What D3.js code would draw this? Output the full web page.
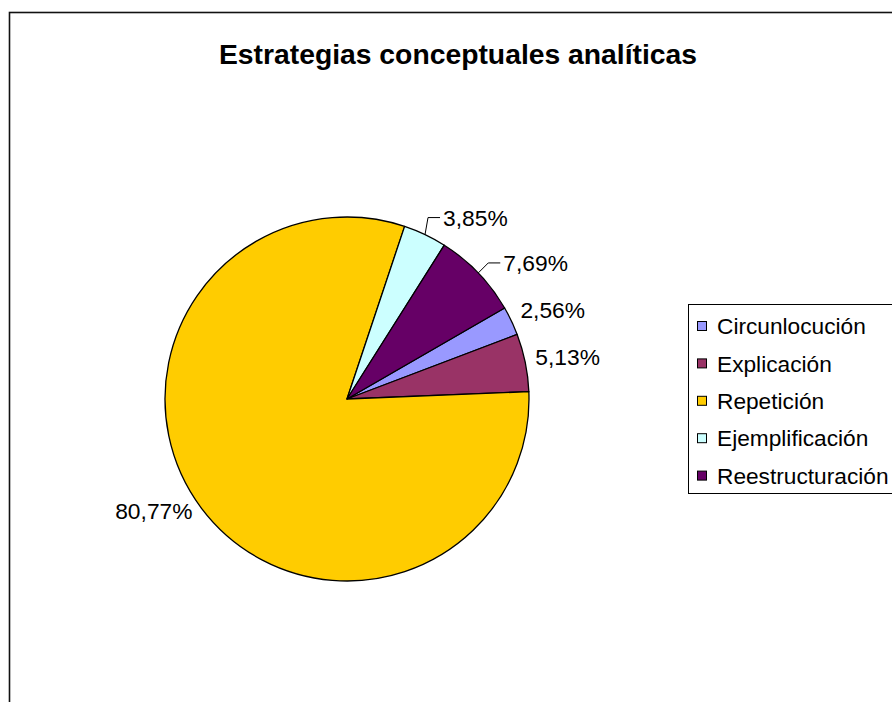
<!DOCTYPE html>
<html>
<head>
<meta charset="utf-8">
<script src="https://cdn.jsdelivr.net/npm/d3@7"></script>
<style>
  body { margin: 0; background: #fff; }
  svg text { font-family: "Liberation Sans", Arial, sans-serif; fill: #000; }
</style>
</head>
<body>
<svg width="892" height="702"></svg>
<script>
// data
var categories = ["Circunlocución", "Explicación", "Repetición", "Ejemplificación", "Reestructuración"];
var values = [2.56, 5.13, 80.77, 3.85, 7.69];
var labels = ["2,56%", "5,13%", "80,77%", "3,85%", "7,69%"];
var colors = ["#9999FF", "#993366", "#FFCC00", "#CCFFFF", "#660066"];

var svg = d3.select("svg"),
    width = +svg.attr("width"),
    height = +svg.attr("height");

// chart area border (runs off the right and bottom like the original)
svg.append("rect")
  .attr("x", 9.5).attr("y", 12.5)
  .attr("width", 1000).attr("height", 1000)
  .attr("fill", "none")
  .attr("stroke", "#111")
  .attr("stroke-width", 1.6);

svg.append("text")
  .attr("x", 458).attr("y", 64)
  .attr("text-anchor", "middle")
  .style("font-size", "28.3px")
  .style("font-weight", "bold")
  .text("Estrategias conceptuales analíticas");

/// PIE ///
var cx = 347, cy = 399, radius = 182;

var pie = d3.pie()
  .sort(null)
  .value(function(d) { return d; })
  .startAngle(60 * Math.PI / 180)
  .endAngle(60 * Math.PI / 180 + 2 * Math.PI);

var arcs = pie(values);

var arc = d3.arc().innerRadius(0).outerRadius(radius);
var edge = d3.arc().innerRadius(radius).outerRadius(radius);

var g = svg.append("g").attr("transform", "translate(" + cx + "," + cy + ")");

g.selectAll("path.slice")
  .data(arcs)
  .enter().append("path")
    .attr("class", "slice")
    .attr("d", arc)
    .attr("fill", function(d, i) { return colors[i]; })
    .attr("stroke", "#000")
    .attr("stroke-width", 1.3)
    .attr("stroke-linejoin", "round");

// label nudges from the slice edge (Excel best fit, some dragged out)
var nudge = [[9, -11], [10, -6], [-9, 2], [18, -17], [25, -10]];

var lab = g.append("g");
arcs.forEach(function(d, i) {
  var p = edge.centroid(d);
  var tx = p[0] + nudge[i][0], ty = p[1] + nudge[i][1];
  var right = p[0] > 0;
  if (Math.hypot(nudge[i][0], nudge[i][1]) > 20) {
    lab.append("polyline")
      .attr("points", [p, [tx - 15, ty], [tx - 3, ty]].map(function(q) { return q.join(","); }).join(" "))
      .attr("fill", "none")
      .attr("stroke", "#000")
      .attr("stroke-width", 1);
  }
  lab.append("text")
    .attr("x", tx).attr("y", ty)
    .attr("dy", "0.36em")
    .attr("text-anchor", right ? "start" : "end")
    .style("font-size", "22.8px")
    .text(labels[i]);
});

/// LEGEND ///
var legend = svg.append("g").attr("transform", "translate(688,304)");
legend.append("rect")
  .attr("x", 0.5).attr("y", 0.5)
  .attr("width", 300).attr("height", 189)
  .attr("fill", "#fff")
  .attr("stroke", "#000")
  .attr("stroke-width", 1);

var row = legend.selectAll("g.item")
  .data(categories)
  .enter().append("g")
    .attr("class", "item")
    .attr("transform", function(d, i) { return "translate(0," + (22 + i * 37.4) + ")"; });

row.append("rect")
  .attr("x", 9.5).attr("y", -4.5)
  .attr("width", 9).attr("height", 9)
  .attr("fill", function(d, i) { return colors[i]; })
  .attr("stroke", "#000")
  .attr("stroke-width", 1);

row.append("text")
  .attr("x", 29).attr("y", 0)
  .attr("dy", "0.36em")
  .style("font-size", "22.7px")
  .text(function(d) { return d; });
</script>
</body>
</html>
